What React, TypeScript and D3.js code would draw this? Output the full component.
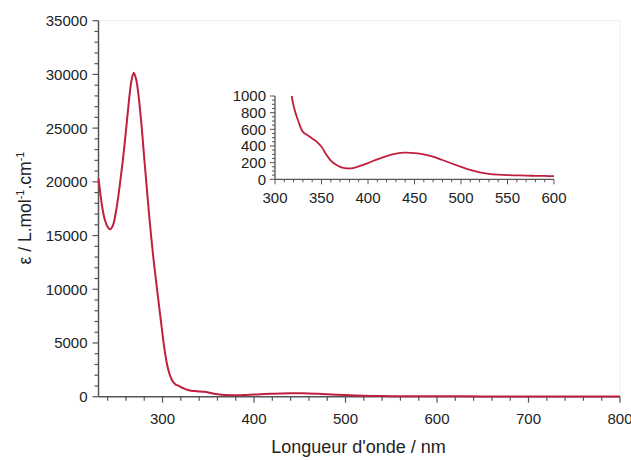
import React from "react";
import * as d3 from "d3";

// Main spectrum (nm, epsilon)
const mainWavelengths = [230, 232, 234.6, 237, 240, 242.6, 245, 247, 250, 253, 257, 261, 264, 266, 268.5, 271, 273.5, 277, 280, 283, 286, 290, 294, 298, 302, 306, 310, 314];
const mainEpsilon = [20330, 18930, 17380, 16450, 15800, 15580, 15800, 16300, 17700, 19500, 22300, 25600, 28100, 29400, 30160, 29600, 28240, 25300, 22200, 19200, 16300, 12900, 10000, 7200, 4500, 2600, 1600, 1150];

// Visible region (nm, epsilon) — shown in inset and continues main curve
const visWavelengths = [318, 320, 325, 330, 335, 340, 345, 350, 355, 360, 365, 370, 375, 380, 385, 390, 400, 410, 420, 430, 440, 450, 460, 470, 480, 490, 500, 510, 520, 530, 540, 550, 560, 570, 580, 590, 600];
const visEpsilon = [1000, 880, 700, 570, 530, 490, 450, 390, 300, 225, 180, 150, 135, 130, 138, 155, 195, 240, 278, 308, 320, 315, 300, 272, 232, 190, 150, 112, 84, 66, 56, 50, 47, 44, 42, 40, 38];

// Tail beyond inset range
const tailWavelengths = [650, 700, 750, 800];
const tailEpsilon = [30, 25, 20, 18];

const mainYTicks = [0, 5000, 10000, 15000, 20000, 25000, 30000, 35000];
const mainXTicks = [300, 400, 500, 600, 700, 800];
const insetYTicks = [0, 200, 400, 600, 800, 1000];
const insetXTicks = [300, 350, 400, 450, 500, 550, 600];

const LINE = "#c01f3e";
const AXIS = "#555";
const FONT = "'Liberation Sans', Arial, sans-serif";

export default function App() {
  const W = 631, H = 460;
  const x = d3.scaleLinear().domain([230, 800]).range([98.5, 620]);
  const y = d3.scaleLinear().domain([0, 35000]).range([396.7, 20.7]);
  const xi = d3.scaleLinear().domain([300, 600]).range([275, 554]);
  const yi = d3.scaleLinear().domain([0, 1000]).range([179.3, 96]);

  const mainPts: [number, number][] = [
    ...mainWavelengths.map((w, i) => [w, mainEpsilon[i]] as [number, number]),
    ...visWavelengths.map((w, i) => [w, visEpsilon[i]] as [number, number]),
    ...tailWavelengths.map((w, i) => [w, tailEpsilon[i]] as [number, number]),
  ];
  const insetPts: [number, number][] = visWavelengths.map((w, i) => [w, visEpsilon[i]]);

  const mainLine = d3.line<[number, number]>().x(d => x(d[0])).y(d => y(d[1])).curve(d3.curveCatmullRom.alpha(0.5));
  const insetLine = d3.line<[number, number]>().x(d => xi(d[0])).y(d => yi(d[1])).curve(d3.curveCatmullRom.alpha(0.5));

  const mainYMinor = d3.range(0, 35001, 1000);
  const mainXMinor = d3.range(240, 801, 20);
  const insetYMinor = d3.range(0, 1001, 50);
  const insetXMinor = d3.range(300, 601, 10);

  return (
    <svg width={W} height={H} style={{ position: "absolute", left: 0, top: 0 }} fontFamily={FONT}>
      <rect width={W} height={H} fill="#fff" />
      {/* faint frame */}
      <line x1={x(230)} x2={x(800)} y1={y(35000)} y2={y(35000)} stroke="#eee" />
      <line x1={x(800)} x2={x(800)} y1={y(35000)} y2={y(0)} stroke="#eee" />

      {/* main y axis */}
      <line x1={x(230)} x2={x(230)} y1={y(35000)} y2={y(0)} stroke={AXIS} strokeWidth={1.5} />
      {mainYMinor.map(v => (
        <line key={"ym" + v} x1={x(230)} x2={x(230) - (v % 5000 === 0 ? 6 : 4)} y1={y(v)} y2={y(v)} stroke={AXIS} strokeWidth={1.2} />
      ))}
      {mainYTicks.map(v => (
        <text key={"yt" + v} x={x(230) - 11} y={y(v)} dy="0.36em" textAnchor="end" fontSize={15} fill="#222">{v}</text>
      ))}

      {/* main x axis */}
      <line x1={x(230)} x2={x(800)} y1={y(0)} y2={y(0)} stroke={AXIS} strokeWidth={1.5} />
      {mainXMinor.map(v => (
        <line key={"xm" + v} x1={x(v)} x2={x(v)} y1={y(0)} y2={y(0) + (v % 100 === 0 ? 6 : 4)} stroke={AXIS} strokeWidth={1.2} />
      ))}
      {mainXTicks.map(v => (
        <text key={"xt" + v} x={x(v)} y={y(0) + 27} textAnchor="middle" fontSize={15} fill="#222">{v}</text>
      ))}

      <text x={358.5} y={453} textAnchor="middle" fontSize={18} fill="#222">Longueur d'onde / nm</text>
      <text transform="translate(31,208) rotate(-90)" textAnchor="middle" fontSize={17.5} fill="#222">
        ε / L.mol<tspan fontSize={11} dy="-7">-1</tspan><tspan dy="7">.cm</tspan><tspan fontSize={11} dy="-7">-1</tspan>
      </text>

      <path d={mainLine(mainPts) || ""} fill="none" stroke={LINE} strokeWidth={2} />

      {/* inset */}
      <line x1={xi(300)} x2={xi(300)} y1={yi(1000)} y2={yi(0)} stroke={AXIS} strokeWidth={1.3} />
      {insetYMinor.map(v => (
        <line key={"iym" + v} x1={xi(300)} x2={xi(300) - (v % 200 === 0 ? 5 : 3)} y1={yi(v)} y2={yi(v)} stroke={AXIS} strokeWidth={1} />
      ))}
      {insetYTicks.map(v => (
        <text key={"iyt" + v} x={xi(300) - 9} y={yi(v)} dy="0.36em" textAnchor="end" fontSize={15} fill="#222">{v}</text>
      ))}
      <line x1={xi(300)} x2={xi(600)} y1={yi(0)} y2={yi(0)} stroke={AXIS} strokeWidth={1.3} />
      {insetXMinor.map(v => (
        <line key={"ixm" + v} x1={xi(v)} x2={xi(v)} y1={yi(0)} y2={yi(0) + (v % 50 === 0 ? 5 : 3)} stroke={AXIS} strokeWidth={1} />
      ))}
      {insetXTicks.map(v => (
        <text key={"ixt" + v} x={xi(v)} y={yi(0) + 24} textAnchor="middle" fontSize={15} fill="#222">{v}</text>
      ))}
      <path d={insetLine(insetPts) || ""} fill="none" stroke={LINE} strokeWidth={1.8} />
    </svg>
  );
}
